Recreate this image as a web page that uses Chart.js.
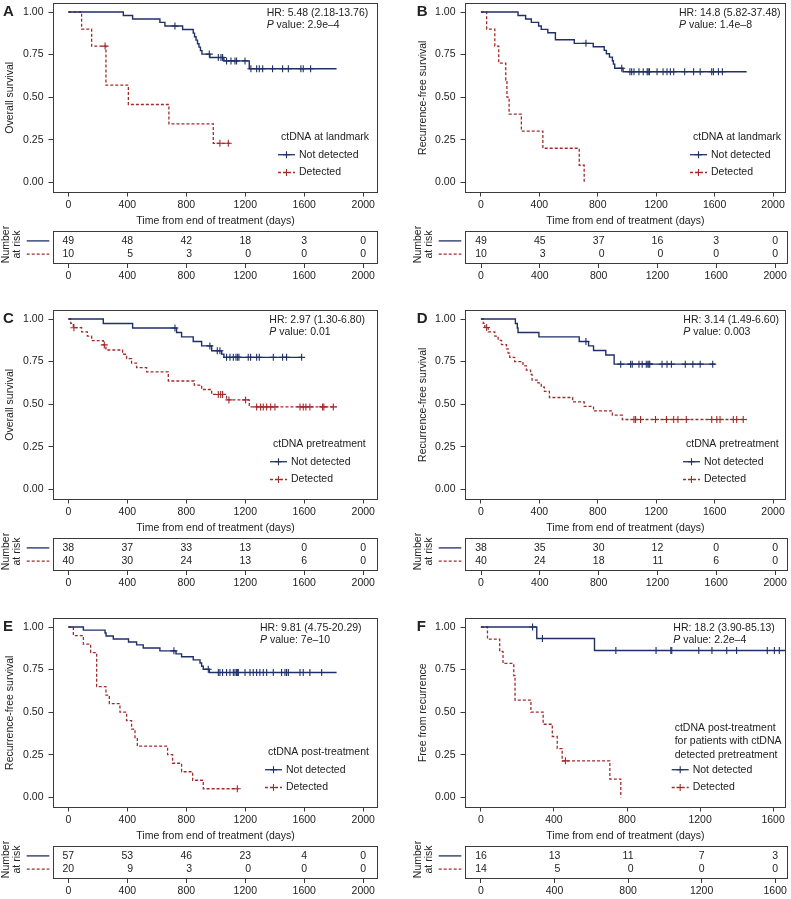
<!DOCTYPE html>
<html>
<head>
<meta charset="utf-8">
<title>ctDNA Kaplan-Meier curves</title>
<script src="https://cdn.jsdelivr.net/npm/chart.js@4.4.1/dist/chart.umd.min.js"></script>
<style>
  body { margin: 0; background: #fff; }
  #wrap { position: relative; width: 791px; height: 899px; overflow: hidden; }
  canvas { position: absolute; }
</style>
</head>
<body>
<div id="wrap"></div>
<script>
// Axis ticks and shared labels
const xTicks = [0, 400, 800, 1200, 1600, 2000];
const xTicksF = [0, 400, 800, 1200, 1600];
const yTicks = [0, 0.25, 0.5, 0.75, 1];
const xTitle = 'Time from end of treatment (days)';
const groupNames = ['Not detected', 'Detected'];

// A - overall survival, ctDNA at landmark
const aNdTimes = [0, 373, 436, 621, 655, 775, 847, 856, 866, 876, 886, 896, 906, 960, 1055, 1227, 1819];
const aNdSurv  = [1, 0.980, 0.959, 0.939, 0.918, 0.897, 0.876, 0.855, 0.835, 0.814, 0.794, 0.773, 0.753, 0.733, 0.713, 0.667, 0.667];
const aNdCens  = [723, 956, 1017, 1035, 1046, 1073, 1103, 1130, 1141, 1198, 1238, 1277, 1295, 1318, 1385, 1453, 1492, 1577, 1593, 1643];
const aDTimes  = [0, 90, 158, 255, 407, 682, 983, 1096];
const aDSurv   = [1, 0.9, 0.8, 0.571, 0.457, 0.343, 0.229, 0.229];
const aDCens   = [249, 1028, 1085];
const aNdRisk  = [49, 48, 42, 18, 3, 0];
const aDRisk   = [10, 5, 3, 0, 0, 0];

// B - recurrence-free survival, ctDNA at landmark
const bNdTimes = [0, 254, 306, 345, 395, 413, 458, 510, 639, 769, 844, 859, 880, 900, 907, 916, 973, 1819];
const bNdSurv  = [1, 0.980, 0.959, 0.939, 0.918, 0.898, 0.878, 0.837, 0.816, 0.796, 0.775, 0.755, 0.735, 0.714, 0.694, 0.670, 0.649, 0.649];
const bNdCens  = [719, 964, 1020, 1032, 1048, 1082, 1111, 1138, 1145, 1154, 1206, 1247, 1274, 1297, 1320, 1395, 1456, 1501, 1580, 1592, 1626, 1653];
const bDTimes  = [0, 39, 95, 122, 170, 178, 193, 277, 424, 673, 707];
const bDSurv   = [1, 0.9, 0.8, 0.7, 0.6, 0.5, 0.4, 0.3, 0.2, 0.1, 0];
const bDCens   = [];
const bNdRisk  = [49, 45, 37, 16, 3, 0];
const bDRisk   = [10, 3, 0, 0, 0, 0];

// C - overall survival, ctDNA pretreatment
const cNdTimes = [0, 237, 436, 734, 768, 847, 904, 972, 1040, 1055, 1582];
const cNdSurv  = [1, 0.974, 0.947, 0.921, 0.895, 0.868, 0.842, 0.814, 0.794, 0.775, 0.775];
const cNdCens  = [723, 960, 1010, 1028, 1073, 1096, 1119, 1137, 1148, 1157, 1220, 1236, 1277, 1295, 1390, 1453, 1480, 1582];
const cDTimes  = [0, 16, 34, 90, 129, 158, 237, 255, 368, 395, 429, 463, 531, 678, 854, 904, 972, 1073, 1227, 1819];
const cDSurv   = [1, 0.975, 0.949, 0.924, 0.9, 0.873, 0.848, 0.818, 0.793, 0.767, 0.741, 0.714, 0.69, 0.636, 0.612, 0.586, 0.557, 0.525, 0.484, 0.484];
const cDCens   = [38, 244, 1017, 1033, 1046, 1089, 1202, 1277, 1304, 1322, 1345, 1372, 1401, 1571, 1593, 1611, 1638, 1724, 1733, 1797];
const cNdRisk  = [38, 37, 33, 13, 0, 0];
const cDRisk   = [40, 30, 24, 13, 6, 0];

// D - recurrence-free survival, ctDNA pretreatment
const dNdTimes = [0, 236, 249, 254, 397, 673, 737, 771, 855, 912, 1603];
const dNdSurv  = [1, 0.974, 0.947, 0.921, 0.895, 0.868, 0.842, 0.815, 0.789, 0.735, 0.735];
const dNdCens  = [719, 957, 1025, 1036, 1082, 1104, 1132, 1143, 1150, 1156, 1240, 1274, 1304, 1399, 1451, 1501, 1587];
const dDTimes  = [0, 16, 27, 50, 95, 118, 141, 175, 186, 197, 231, 288, 311, 340, 350, 390, 413, 435, 469, 628, 707, 771, 900, 968, 1819];
const dDSurv   = [1, 0.975, 0.95, 0.925, 0.9, 0.875, 0.85, 0.825, 0.8, 0.775, 0.75, 0.725, 0.7, 0.675, 0.641, 0.625, 0.6, 0.575, 0.539, 0.513, 0.487, 0.46, 0.435, 0.41, 0.41];
const dDCens   = [39, 1048, 1059, 1093, 1195, 1270, 1320, 1349, 1406, 1580, 1615, 1637, 1728, 1751, 1796];
const dNdRisk  = [38, 35, 30, 12, 0, 0];
const dDRisk   = [40, 24, 18, 11, 6, 0];

// E - recurrence-free survival, ctDNA post-treatment
const eNdTimes = [0, 102, 249, 256, 305, 408, 463, 508, 621, 730, 768, 847, 893, 904, 915, 956, 1819];
const eNdSurv  = [1, 0.982, 0.965, 0.947, 0.930, 0.912, 0.895, 0.877, 0.86, 0.842, 0.825, 0.807, 0.789, 0.77, 0.752, 0.733, 0.733];
const eNdCens  = [716, 949, 1017, 1028, 1046, 1073, 1096, 1119, 1130, 1141, 1146, 1153, 1198, 1232, 1254, 1277, 1299, 1322, 1345, 1390, 1446, 1469, 1480, 1492, 1571, 1593, 1638, 1718];
const eDTimes  = [0, 34, 102, 151, 192, 255, 278, 350, 395, 429, 452, 468, 673, 707, 768, 843, 915, 1153];
const eDSurv   = [1, 0.95, 0.9, 0.85, 0.65, 0.6, 0.55, 0.5, 0.45, 0.4, 0.35, 0.3, 0.25, 0.2, 0.15, 0.1, 0.05, 0.05];
const eDCens   = [1146];
const eNdRisk  = [57, 53, 46, 23, 4, 0];
const eDRisk   = [20, 9, 3, 0, 0, 0];

// F - free from recurrence, post-treatment in pretreatment-detected patients
const fNdTimes = [0, 306, 622, 1670];
const fNdSurv  = [1, 0.933, 0.862, 0.862];
const fNdCens  = [283, 337, 739, 959, 1040, 1045, 1193, 1265, 1346, 1400, 1568, 1607, 1634];
const fDTimes  = [0, 36, 103, 121, 180, 187, 274, 341, 391, 418, 445, 706, 766];
const fDSurv   = [1, 0.929, 0.857, 0.786, 0.714, 0.571, 0.5, 0.429, 0.357, 0.286, 0.214, 0.107, 0];
const fDCens   = [463];
const fNdRisk  = [16, 13, 11, 7, 3];
const fDRisk   = [14, 5, 0, 0, 0];

// styling
const FAMILY = '"Liberation Sans", Arial, Helvetica, sans-serif';
const FONT = '10.5px ' + FAMILY;
const TEXT = '#222';
const AXIS = '#3a3a3a';
const BLUE = '#1f2f68';
const RED = '#a32a2a';

Chart.defaults.font.family = FAMILY;
Chart.defaults.font.size = 10.5;
Chart.defaults.color = TEXT;

const cols = [
  { left: 0, width: 395, yw: 53, padR: 17, ytPad: 3.7, letterX: 3, xmin: -104, xmax: 2100 },
  { left: 395, width: 396, yw: 70, padR: 3, ytPad: 21.7, letterX: 21.7, xmin: -109, xmax: 2088 }
];
const rowTops = [0, 307, 615];

const panels = [
  { letter: 'A', row: 0, col: 0, yTitle: 'Overall survival', hr: 'HR: 5.48 (2.18-13.76)', p: '2.9e\u20134',
    legTitle: ['ctDNA at landmark'], nd: [aNdTimes, aNdSurv, aNdCens], d: [aDTimes, aDSurv, aDCens],
    risk: [aNdRisk, aDRisk], ticks: xTicks, hrX: 213.7, legX: 225, legTY: 124.7 },
  { letter: 'B', row: 0, col: 1, yTitle: 'Recurrence-free survival', hr: 'HR: 14.8 (5.82-37.48)', p: '1.4e\u20138',
    legTitle: ['ctDNA at landmark'], nd: [bNdTimes, bNdSurv, bNdCens], d: [bDTimes, bDSurv, bDCens],
    risk: [bNdRisk, bDRisk], ticks: xTicks, hrX: 214, legX: 225, legTY: 124.7 },
  { letter: 'C', row: 1, col: 0, yTitle: 'Overall survival', hr: 'HR: 2.97 (1.30-6.80)', p: '0.01',
    legTitle: ['ctDNA pretreatment'], nd: [cNdTimes, cNdSurv, cNdCens], d: [cDTimes, cDSurv, cDCens],
    risk: [cNdRisk, cDRisk], ticks: xTicks, hrX: 216.3, legX: 217, legTY: 124.7 },
  { letter: 'D', row: 1, col: 1, yTitle: 'Recurrence-free survival', hr: 'HR: 3.14 (1.49-6.60)', p: '0.003',
    legTitle: ['ctDNA pretreatment'], nd: [dNdTimes, dNdSurv, dNdCens], d: [dDTimes, dDSurv, dDCens],
    risk: [dNdRisk, dDRisk], ticks: xTicks, hrX: 218.3, legX: 218, legTY: 124.7 },
  { letter: 'E', row: 2, col: 0, yTitle: 'Recurrence-free survival', hr: 'HR: 9.81 (4.75-20.29)', p: '7e\u201310',
    legTitle: ['ctDNA post-treatment'], nd: [eNdTimes, eNdSurv, eNdCens], d: [eDTimes, eDSurv, eDCens],
    risk: [eNdRisk, eDRisk], ticks: xTicks, hrX: 207, legX: 212, legTY: 125.5 },
  { letter: 'F', row: 2, col: 1, yTitle: 'Free from recurrence', hr: 'HR: 18.2 (3.90-85.13)', p: '2.2e\u20134',
    legTitle: ['ctDNA post-treatment', 'for patients with ctDNA', 'detected pretreatment'],
    nd: [fNdTimes, fNdSurv, fNdCens], d: [fDTimes, fDSurv, fDCens],
    risk: [fNdRisk, fDRisk], ticks: xTicksF, xmin: -87, xmax: 1670, hrX: 208.3, legX: 206.7, legTY: 127.7 }
];

const wrap = document.getElementById('wrap');

function addCanvas(left, top, w, h) {
  const c = document.createElement('canvas');
  c.width = w;
  c.height = h;
  c.style.left = left + 'px';
  c.style.top = top + 'px';
  wrap.appendChild(c);
  return c;
}

// step value of a curve at time t (for placing censor marks on it)
function survAt(times, surv, t) {
  let s = surv[0];
  for (let i = 0; i < times.length; i++) {
    if (times[i] <= t) s = surv[i];
  }
  return s;
}

function drawBox(ctx, a) {
  ctx.strokeStyle = AXIS;
  ctx.lineWidth = 1;
  ctx.setLineDash([]);
  ctx.strokeRect(Math.round(a.left) + 0.5, Math.round(a.top) + 0.5,
    Math.round(a.right - a.left) - 1, Math.round(a.bottom - a.top) - 1);
}

function drawCross(ctx, x, y, r) {
  ctx.beginPath();
  ctx.moveTo(x - r, y); ctx.lineTo(x + r, y);
  ctx.moveTo(x, y - r); ctx.lineTo(x, y + r);
  ctx.stroke();
}

function xScale(p, col, height, withTitle) {
  return {
    type: 'linear',
    min: p.xmin ?? col.xmin,
    max: p.xmax ?? col.xmax,
    afterBuildTicks: s => { s.ticks = p.ticks.map(v => ({ value: v })); },
    afterFit: s => { s.height = height; },
    border: { display: false },
    grid: { drawOnChartArea: false, tickLength: 4, color: AXIS },
    ticks: { padding: 2, maxRotation: 0, autoSkip: false, color: TEXT, callback: v => String(v) },
    title: { display: withTitle, text: xTitle, color: TEXT, padding: { top: 0, bottom: 1 } }
  };
}

function kmDecor(p, col) {
  return {
    id: 'kmDecor',
    afterDraw(chart) {
      const { ctx, chartArea: a } = chart;
      const y1 = chart.scales.y.getPixelForValue(1);
      ctx.save();
      drawBox(ctx, a);
      ctx.fillStyle = TEXT;
      ctx.textBaseline = 'middle';
      ctx.textAlign = 'left';

      // panel letter
      ctx.font = 'bold 15px ' + FAMILY;
      ctx.fillText(p.letter, col.letterX, y1);

      // hazard ratio + p value
      ctx.font = FONT;
      const hx = a.left + p.hrX;
      ctx.fillText(p.hr, hx, y1 + 1);
      ctx.font = 'italic ' + FONT;
      ctx.fillText('P', hx, y1 + 13.4);
      const pw = ctx.measureText('P').width;
      ctx.font = FONT;
      ctx.fillText(' value: ' + p.p, hx + pw, y1 + 13.4);

      // legend
      const lx = a.left + p.legX;
      const n = p.legTitle.length;
      p.legTitle.forEach((s, i) => ctx.fillText(s, lx + 3, y1 + p.legTY - (n - 1 - i) * 13.4));
      [[BLUE, [], 142.7], [RED, [3, 2], 160.5]].forEach(([c, dash, dy], i) => {
        const yy = y1 + dy;
        ctx.strokeStyle = c;
        ctx.lineWidth = 1.3;
        ctx.setLineDash(dash);
        ctx.beginPath();
        ctx.moveTo(lx, yy);
        ctx.lineTo(lx + 17, yy);
        ctx.stroke();
        ctx.setLineDash([]);
        ctx.lineWidth = 1.1;
        drawCross(ctx, lx + 8.5, yy, 3.5);
        ctx.fillStyle = TEXT;
        ctx.fillText(groupNames[i], lx + 21, yy);
      });
      ctx.restore();
    }
  };
}

function riskDecor(p) {
  return {
    id: 'riskDecor',
    afterDraw(chart) {
      const { ctx, chartArea: a } = chart;
      ctx.save();
      drawBox(ctx, a);
      ctx.font = FONT;
      ctx.fillStyle = TEXT;
      ctx.textBaseline = 'middle';

      // numbers at risk, right-justified within a centred column
      const m0 = chart.getDatasetMeta(0).data;
      const m1 = chart.getDatasetMeta(1).data;
      p.risk[0].forEach((v, i) => {
        const s0 = String(v), s1 = String(p.risk[1][i]);
        const w = Math.max(ctx.measureText(s0).width, ctx.measureText(s1).width);
        ctx.textAlign = 'right';
        ctx.fillText(s0, m0[i].x + w / 2, m0[i].y);
        ctx.fillText(s1, m1[i].x + w / 2, m1[i].y);
      });

      // row keys
      const y0 = m0[0].y, y1 = m1[0].y;
      ctx.lineWidth = 1.3;
      ctx.strokeStyle = BLUE;
      ctx.beginPath(); ctx.moveTo(a.left - 26.3, y0); ctx.lineTo(a.left - 3.7, y0); ctx.stroke();
      ctx.strokeStyle = RED;
      ctx.setLineDash([3, 2]);
      ctx.beginPath(); ctx.moveTo(a.left - 26.3, y1); ctx.lineTo(a.left - 3.7, y1); ctx.stroke();
      ctx.setLineDash([]);

      ctx.textAlign = 'center';
      [['Number', -47], ['at risk', -35.5]].forEach(([s, dx]) => {
        ctx.save();
        ctx.translate(a.left + dx, a.top + 13.5);
        ctx.rotate(-Math.PI / 2);
        ctx.fillText(s, 0, 0);
        ctx.restore();
      });
      ctx.restore();
    }
  };
}

panels.forEach(p => {
  const col = cols[p.col];
  const top = rowTops[p.row];
  const [ndT, ndS, ndC] = p.nd;
  const [dT, dS, dC] = p.d;

  // survival curves
  const km = addCanvas(col.left, top - 12, col.width, 240);
  new Chart(km, {
    type: 'line',
    data: {
      datasets: [
        { data: ndT.map((t, i) => ({ x: t, y: ndS[i] })), borderColor: BLUE, borderWidth: 1.4,
          stepped: true, pointRadius: 0, fill: false },
        { data: dT.map((t, i) => ({ x: t, y: dS[i] })), borderColor: RED, borderWidth: 1.3,
          borderDash: [3, 2], stepped: true, pointRadius: 0, fill: false },
        { data: ndC.map(t => ({ x: t, y: survAt(ndT, ndS, t) })), showLine: false,
          pointStyle: 'cross', pointRadius: 3.5, pointBorderColor: BLUE, pointBorderWidth: 1.1 },
        { data: dC.map(t => ({ x: t, y: survAt(dT, dS, t) })), showLine: false,
          pointStyle: 'cross', pointRadius: 3.5, pointBorderColor: RED, pointBorderWidth: 1.1 }
      ]
    },
    options: {
      responsive: false,
      animation: false,
      devicePixelRatio: 1,
      events: [],
      layout: { padding: { top: 15, left: 0, right: col.padR, bottom: 0 } },
      plugins: { legend: { display: false }, tooltip: { enabled: false } },
      scales: {
        x: xScale(p, col, 35.5, true),
        y: {
          type: 'linear',
          min: -0.06,
          max: 1.053,
          afterBuildTicks: s => { s.ticks = yTicks.map(v => ({ value: v })); },
          afterFit: s => { s.width = col.yw; },
          border: { display: false },
          grid: { drawOnChartArea: false, tickLength: 4.5, color: AXIS },
          ticks: { padding: 5, color: TEXT, callback: v => v.toFixed(2) },
          title: { display: true, text: p.yTitle, color: TEXT, padding: { top: col.ytPad, bottom: 0 } }
        }
      }
    },
    plugins: [kmDecor(p, col)]
  });

  // number-at-risk table (canvas starts higher so the rotated key text is not clipped)
  const riskT = p.ticks;
  const rc = addCanvas(col.left, top + 218, col.width, 72);
  new Chart(rc, {
    type: 'line',
    data: {
      datasets: [
        { data: riskT.map(t => ({ x: t, y: 0.7 })), showLine: false, pointRadius: 0 },
        { data: riskT.map(t => ({ x: t, y: 0.3 })), showLine: false, pointRadius: 0 }
      ]
    },
    options: {
      responsive: false,
      animation: false,
      devicePixelRatio: 1,
      events: [],
      layout: { padding: { top: 13, left: col.yw, right: col.padR, bottom: 0 } },
      plugins: { legend: { display: false }, tooltip: { enabled: false } },
      scales: {
        x: xScale(p, col, 26, false),
        y: { display: false, min: 0, max: 1 }
      }
    },
    plugins: [riskDecor(p)]
  });
});
</script>
</body>
</html>
